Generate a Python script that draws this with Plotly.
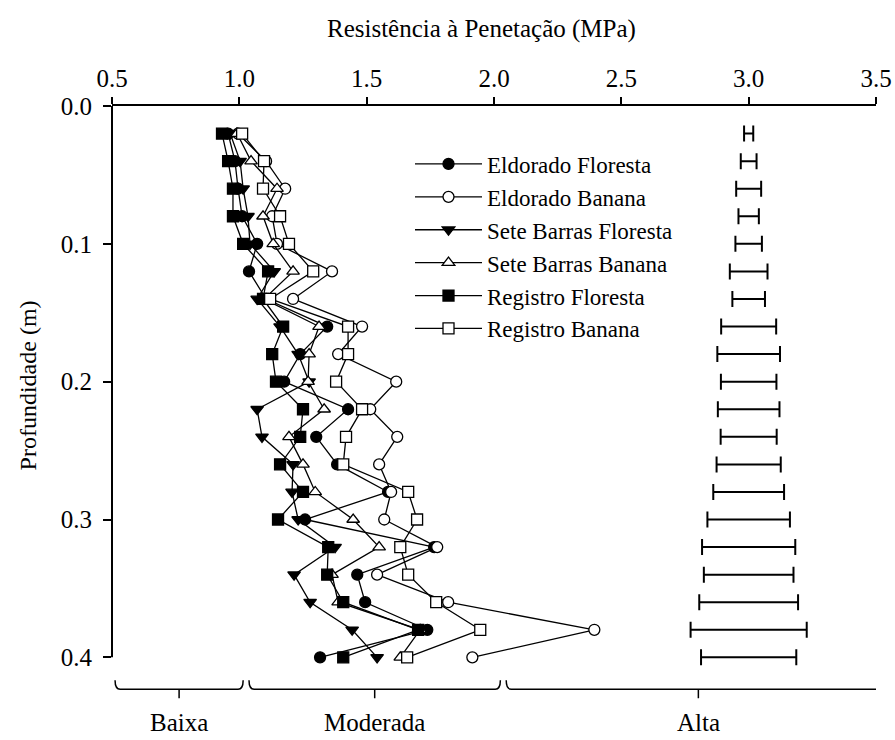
import plotly.graph_objects as go

depth = [0.02, 0.04, 0.06, 0.08, 0.10, 0.12, 0.14, 0.16, 0.18, 0.20,
         0.22, 0.24, 0.26, 0.28, 0.30, 0.32, 0.34, 0.36, 0.38, 0.40]

eldorado_floresta = [0.956, 0.983, 0.995, 1.011, 1.070, 1.038, 1.105, 1.345, 1.239, 1.176,
                     1.427, 1.302, 1.384, 1.584, 1.258, 1.765, 1.463, 1.494, 1.738, 1.317]
eldorado_banana = [0.995, 1.105, 1.180, 1.129, 1.148, 1.364, 1.211, 1.482, 1.388, 1.616,
                   1.514, 1.620, 1.549, 1.596, 1.569, 1.777, 1.541, 1.820, 2.394, 1.915]
sete_barras_floresta = [0.964, 1.003, 1.015, 1.034, 1.042, 1.137, 1.070, 1.160, 1.231, 1.274,
                        1.070, 1.089, 1.211, 1.207, 1.231, 1.376, 1.215, 1.278, 1.443, 1.541]
sete_barras_banana = [0.991, 1.046, 1.148, 1.093, 1.133, 1.211, 1.097, 1.313, 1.274, 1.270,
                      1.333, 1.195, 1.250, 1.298, 1.447, 1.549, 1.364, 1.388, 1.710, 1.632]
registro_floresta = [0.932, 0.956, 0.975, 0.975, 1.015, 1.113, 1.093, 1.172, 1.129, 1.144,
                     1.250, 1.239, 1.160, 1.250, 1.152, 1.349, 1.345, 1.408, 1.702, 1.408]
registro_banana = [1.011, 1.097, 1.093, 1.160, 1.195, 1.290, 1.121, 1.427, 1.427, 1.380,
                   1.482, 1.419, 1.408, 1.663, 1.698, 1.632, 1.663, 1.773, 1.946, 1.659]

# error bars (DMS) drawn around x = 3.0
dms_center = [3.0] * 20
dms_half = [0.018, 0.031, 0.049, 0.040, 0.052, 0.074, 0.064, 0.108, 0.123, 0.109,
            0.121, 0.110, 0.126, 0.139, 0.162, 0.183, 0.176, 0.194, 0.228, 0.187]

x_ticks = [0.5, 1.0, 1.5, 2.0, 2.5, 3.0, 3.5]
y_ticks = [0.0, 0.1, 0.2, 0.3, 0.4]
y_max = 0.4
y_pad = 0.007  # small extra room below 0.4 so the last error bar is not clipped

classes = ["Baixa", "Moderada", "Alta"]
class_bounds = [(0.512, 1.015), (1.038, 2.025), (2.048, 3.557)]

FONT = "Liberation Serif, Times New Roman, serif"

series = [
    ("Eldorado Floresta", eldorado_floresta, "circle", "black", 11),
    ("Eldorado Banana", eldorado_banana, "circle", "white", 11),
    ("Sete Barras Floresta", sete_barras_floresta, "triangle-down", "black", 11),
    ("Sete Barras Banana", sete_barras_banana, "triangle-up", "white", 11),
    ("Registro Floresta", registro_floresta, "square", "black", 11),
    ("Registro Banana", registro_banana, "square", "white", 11),
]

fig = go.Figure()
for name, vals, sym, fill, size in series:
    fig.add_trace(go.Scatter(
        x=vals, y=depth, name=name, mode="lines+markers",
        line=dict(color="black", width=1.3),
        marker=dict(symbol=sym, size=size, color=fill,
                    line=dict(color="black", width=1.3)),
        cliponaxis=False,
    ))

fig.add_trace(go.Scatter(
    x=dms_center, y=depth, mode="markers", showlegend=False,
    marker=dict(size=1, color="rgba(0,0,0,0)"),
    error_x=dict(type="data", array=dms_half, visible=True,
                 color="black", thickness=2, width=8),
    cliponaxis=False,
))

W, H = 895, 740
top_px, y0_px, y04_px = 105.5, 105.5, 657.0
plot_h = (y04_px - top_px) * (y_max + y_pad) / y_max
bottom_px = top_px + plot_h


def py(p):
    return (bottom_px - p) / plot_h


shapes = []
# left axis line from 0.0 to 0.4 only
shapes.append(dict(type="line", xref="paper", yref="paper", x0=0, x1=0,
                   y0=1, y1=y_pad / (y_max + y_pad),
                   line=dict(color="black", width=2)))

y_top, y_bar, y_tick = py(680), py(689), py(698)
d = 0.02
for (x0, x1) in class_bounds:
    xc = (x0 + x1) / 2
    path = (f"M {x0},{y_top} Q {x0},{y_bar} {x0 + d},{y_bar} "
            f"L {x1 - d},{y_bar} Q {x1},{y_bar} {x1},{y_top} "
            f"M {xc},{y_bar} L {xc},{y_tick}")
    shapes.append(dict(type="path", xref="x", yref="paper", path=path,
                       line=dict(color="black", width=1.5)))

annotations = [
    dict(text="Resistência à Penetação (MPa)", xref="paper", yref="paper",
         x=0.483, y=py(28), showarrow=False, font=dict(size=25, family=FONT, color="black"),
         xanchor="center", yanchor="middle"),
    dict(text="Profundidade (m)", xref="paper", yref="paper",
         x=-0.110, y=py(385), showarrow=False, textangle=-90,
         font=dict(size=24, family=FONT, color="black"),
         xanchor="center", yanchor="middle"),
]
for name, (x0, x1) in zip(classes, class_bounds):
    annotations.append(dict(text=name, xref="x", yref="paper", x=(x0 + x1) / 2,
                            y=py(722), showarrow=False,
                            font=dict(size=25, family=FONT, color="black"),
                            xanchor="center", yanchor="middle"))

fig.update_layout(
    width=W, height=H,
    margin=dict(l=112, r=19, t=top_px, b=H - bottom_px, autoexpand=False),
    paper_bgcolor="white", plot_bgcolor="white",
    font=dict(family=FONT, size=23, color="black"),
    shapes=shapes, annotations=annotations,
    legend=dict(x=(410 - 112) / 764, y=py(142), xanchor="left", yanchor="top",
                bgcolor="rgba(0,0,0,0)", font=dict(size=23, family=FONT),
                itemwidth=67),
    xaxis=dict(side="top", range=[0.5, 3.5], tickvals=x_ticks, tickformat=".1f",
               showline=True, linecolor="black", linewidth=2, ticks="outside",
               ticklen=7, tickwidth=2, tickcolor="black", showgrid=False,
               zeroline=False, tickfont=dict(size=25, family=FONT), automargin=False),
    yaxis=dict(range=[y_max + y_pad, 0.0], tickvals=y_ticks, tickformat=".1f",
               showline=False, ticks="outside", ticklabelstandoff=6,
               ticklen=8, tickwidth=2, tickcolor="black", showgrid=False,
               zeroline=False, tickfont=dict(size=25, family=FONT), automargin=False),
)

fig.write_html("out.html")
